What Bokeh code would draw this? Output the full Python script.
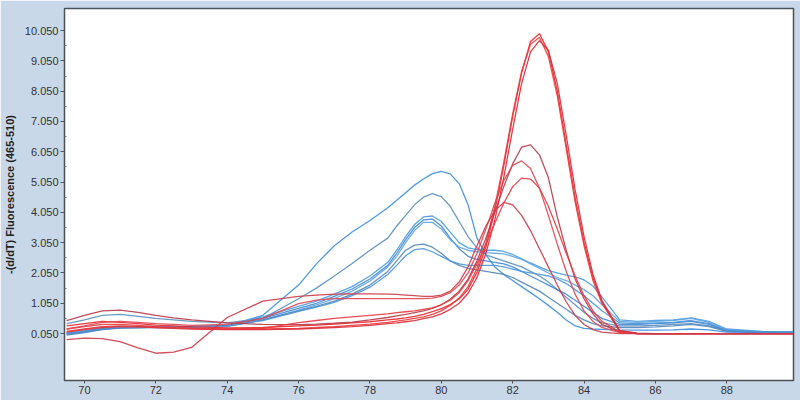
from bokeh.plotting import figure
from bokeh.models import FixedTicker, Range1d
from bokeh.embed import file_html
from bokeh.resources import INLINE

# Temperature grid (°C)
TEMP = [69.5, 70, 70.5, 71, 71.5, 72, 72.5, 73, 74, 75, 76, 76.5, 77, 77.5, 78, 78.5,
        78.75, 79, 79.25, 79.5, 79.75, 80, 80.25, 80.5, 80.75, 81,
        81.25, 81.5, 81.75, 82, 82.25, 82.5, 82.75, 83, 83.25, 83.5,
        83.75, 84, 84.25, 84.5, 85, 85.5, 86, 86.5, 87, 87.5,
        88, 89, 89.85]

# Red samples
RED_T1 = [0.30, 0.38, 0.45, 0.42, 0.38, 0.33, 0.30, 0.27,
          0.24, 0.25, 0.30, 0.33, 0.36, 0.40, 0.44, 0.50,
          0.53, 0.57, 0.62, 0.68, 0.77, 0.87, 1.01, 1.19, 1.51, 2.07,
          2.91, 4.11, 5.58, 7.21, 8.65, 9.69, 9.95, 9.36, 8.05, 6.28,
          4.52, 3.05, 1.88, 1.10, 0.12, 0.05, 0.04, 0.04, 0.05, 0.05,
          0.05, 0.05, 0.05]
RED_T2 = [0.20, 0.28, 0.35, 0.35, 0.32, 0.28, 0.25, 0.22,
          0.20, 0.20, 0.22, 0.25, 0.28, 0.32, 0.36, 0.42,
          0.46, 0.50, 0.55, 0.60, 0.68, 0.80, 0.98, 1.22, 1.60, 2.20,
          3.05, 4.25, 5.70, 7.30, 8.70, 9.60, 9.82, 9.20, 7.90, 6.15,
          4.40, 2.95, 1.80, 1.05, 0.12, 0.05, 0.05, 0.05, 0.05, 0.05,
          0.05, 0.05, 0.05]
RED_T3 = [0.12, 0.20, 0.28, 0.30, 0.28, 0.25, 0.22, 0.20,
          0.18, 0.18, 0.20, 0.22, 0.25, 0.28, 0.32, 0.38,
          0.40, 0.44, 0.48, 0.54, 0.60, 0.70, 0.85, 1.05, 1.38, 1.90,
          2.70, 3.80, 5.20, 6.80, 8.30, 9.35, 9.72, 9.40, 8.30, 6.60,
          4.80, 3.25, 2.00, 1.15, 0.15, 0.06, 0.05, 0.05, 0.05, 0.05,
          0.05, 0.05, 0.05]
RED_M1 = [0.48, 0.65, 0.80, 0.82, 0.75, 0.65, 0.57, 0.50,
          0.40, 0.35, 0.34, 0.36, 0.39, 0.43, 0.50, 0.58,
          0.63, 0.68, 0.74, 0.80, 0.88, 1.00, 1.18, 1.45, 1.85, 2.45,
          3.20, 4.05, 4.90, 5.65, 6.20, 6.28, 5.95, 5.20, 3.90, 2.80,
          1.85, 1.20, 0.70, 0.35, 0.10, 0.05, 0.05, 0.05, 0.05, 0.05,
          0.05, 0.05, 0.05]
RED_M2 = [0.20, 0.30, 0.42, 0.45, 0.42, 0.38, 0.35, 0.32,
          0.35, 0.55, 1.04, 1.15, 1.20, 1.20, 1.20, 1.20,
          1.20, 1.20, 1.20, 1.20, 1.22, 1.28, 1.40, 1.65, 2.05, 2.70,
          3.50, 4.35, 5.10, 5.60, 5.75, 5.50, 4.85, 3.95, 3.00, 2.10,
          1.35, 0.80, 0.45, 0.25, 0.08, 0.05, 0.05, 0.05, 0.05, 0.05,
          0.05, 0.05, 0.05]
RED_M3 = [0.10, 0.18, 0.25, 0.28, 0.27, 0.25, 0.23, 0.22,
          0.20, 0.22, 0.41, 0.48, 0.55, 0.60, 0.65, 0.70,
          0.74, 0.77, 0.80, 0.85, 0.90, 1.00, 1.15, 1.40, 1.80, 2.35,
          3.00, 3.70, 4.35, 4.90, 5.18, 5.15, 4.85, 4.25, 3.50, 2.70,
          1.95, 1.30, 0.80, 0.45, 0.10, 0.05, 0.05, 0.05, 0.05, 0.05,
          0.05, 0.05, 0.05]
RED_M4 = [-0.15, -0.10, -0.12, -0.22, -0.42, -0.60, -0.56, -0.41,
          0.58, 1.12, 1.28, 1.32, 1.35, 1.36, 1.36, 1.35,
          1.34, 1.32, 1.30, 1.28, 1.28, 1.32, 1.45, 1.75, 2.25, 2.95,
          3.60, 4.10, 4.38, 4.30, 3.95, 3.45, 2.85, 2.25, 1.65, 1.10,
          0.65, 0.35, 0.18, 0.10, 0.05, 0.05, 0.05, 0.05, 0.05, 0.05,
          0.05, 0.05, 0.05]

# Blue samples
BLUE_1 = [0.05, 0.12, 0.20, 0.25, 0.26, 0.26, 0.27, 0.28,
          0.30, 0.65, 1.65, 2.35, 2.95, 3.40, 3.78, 4.20,
          4.45, 4.70, 4.95, 5.15, 5.33, 5.40, 5.32, 5.00, 4.30, 3.20,
          2.65, 2.25, 2.00, 1.80, 1.60, 1.40, 1.20, 0.98, 0.75, 0.50,
          0.30, 0.22, 0.20, 0.19, 0.17, 0.16, 0.16, 0.17, 0.20, 0.17,
          0.10, 0.08, 0.08]
BLUE_2 = [0.38, 0.50, 0.65, 0.68, 0.62, 0.55, 0.50, 0.45,
          0.40, 0.55, 1.20, 1.55, 1.95, 2.36, 2.80, 3.20,
          3.60, 3.95, 4.30, 4.55, 4.67, 4.57, 4.25, 3.75, 3.25, 2.88,
          2.65, 2.55, 2.45, 2.35, 2.25, 2.10, 1.95, 1.75, 1.50, 1.25,
          1.00, 0.75, 0.55, 0.40, 0.30, 0.30, 0.32, 0.35, 0.38, 0.30,
          0.15, 0.10, 0.10]
BLUE_3 = [0.05, 0.12, 0.22, 0.26, 0.27, 0.27, 0.27, 0.28,
          0.32, 0.60, 0.95, 1.12, 1.35, 1.60, 1.95, 2.40,
          2.80, 3.25, 3.65, 3.90, 3.93, 3.75, 3.40, 3.05, 2.88, 2.82,
          2.80, 2.80, 2.76, 2.66, 2.52, 2.38, 2.25, 2.13, 2.05, 1.98,
          1.92, 1.82, 1.62, 1.26, 0.50, 0.45, 0.48, 0.50, 0.57, 0.45,
          0.20, 0.12, 0.10]
BLUE_4 = [0.00, 0.08, 0.18, 0.23, 0.24, 0.25, 0.25, 0.26,
          0.30, 0.55, 0.88, 1.05, 1.28, 1.52, 1.85, 2.30,
          2.70, 3.15, 3.55, 3.80, 3.83, 3.60, 3.20, 2.85, 2.60, 2.50,
          2.45, 2.40, 2.35, 2.25, 2.10, 1.95, 1.80, 1.65, 1.50, 1.35,
          1.15, 0.95, 0.75, 0.55, 0.35, 0.35, 0.38, 0.40, 0.45, 0.35,
          0.15, 0.10, 0.10]
BLUE_5 = [0.08, 0.15, 0.24, 0.28, 0.29, 0.29, 0.29, 0.29,
          0.28, 0.50, 0.82, 1.00, 1.20, 1.45, 1.78, 2.25,
          2.60, 3.05, 3.45, 3.72, 3.72, 3.50, 3.15, 2.90, 2.80, 2.75,
          2.72, 2.70, 2.68, 2.60, 2.50, 2.35, 2.20, 2.05, 1.90, 1.80,
          1.65, 1.50, 1.30, 1.00, 0.45, 0.42, 0.45, 0.48, 0.55, 0.42,
          0.18, 0.10, 0.10]
BLUE_6 = [0.02, 0.10, 0.20, 0.24, 0.25, 0.26, 0.26, 0.27,
          0.30, 0.50, 0.80, 0.95, 1.12, 1.35, 1.65, 2.10,
          2.45, 2.80, 2.97, 3.00, 2.90, 2.70, 2.45, 2.30, 2.20, 2.15,
          2.10, 2.05, 2.00, 1.90, 1.75, 1.60, 1.45, 1.25, 1.05, 0.85,
          0.65, 0.50, 0.38, 0.30, 0.25, 0.25, 0.27, 0.30, 0.35, 0.28,
          0.12, 0.09, 0.09]
BLUE_7 = [0.06, 0.13, 0.22, 0.26, 0.27, 0.28, 0.28, 0.28,
          0.30, 0.48, 0.78, 0.92, 1.08, 1.30, 1.58, 2.00,
          2.30, 2.62, 2.82, 2.85, 2.75, 2.60, 2.45, 2.35, 2.30, 2.30,
          2.30, 2.30, 2.25, 2.18, 2.10, 2.05, 2.00, 1.95, 1.85, 1.70,
          1.50, 1.30, 1.05, 0.80, 0.40, 0.38, 0.40, 0.42, 0.48, 0.38,
          0.15, 0.10, 0.10]

RED_SERIES = [RED_T1, RED_T2, RED_T3, RED_M1, RED_M2, RED_M3, RED_M4]
BLUE_SERIES = [BLUE_1, BLUE_2, BLUE_3, BLUE_4, BLUE_5, BLUE_6, BLUE_7]
RED_COLORS = ["#e8272c", "#ee3a3a", "#d92a35", "#b83848", "#e0454f", "#e83a40", "#cc3a48"]
BLUE_COLORS = ["#3a8ee0", "#5b8fc0", "#4a9be0", "#3f86d4", "#62a6e0", "#5385b8", "#4d95d8"]

X_TICKS = [70, 72, 74, 76, 78, 80, 82, 84, 86, 88]
X_TICK_LABELS = ["70", "72", "74", "76", "78", "80", "82", "84", "86", "88"]
Y_TICKS = [0.05, 1.05, 2.05, 3.05, 4.05, 5.05, 6.05, 7.05, 8.05, 9.05, 10.05]
Y_TICK_LABELS = ["0.050", "1.050", "2.050", "3.050", "4.050", "5.050",
                 "6.050", "7.050", "8.050", "9.050", "10.050"]
Y_TITLE = "-(d/dT) Fluorescence (465-510)"

BG = "#c9d8e8"

p = figure(width=800, height=400, output_backend="svg", toolbar_location=None,
           x_range=Range1d(69.44, 89.87), y_range=Range1d(-1.5, 10.78),
           min_border_left=60, min_border_right=7, min_border_top=8, min_border_bottom=20)
p.background_fill_color = "white"
p.border_fill_color = BG
p.outline_line_color = "#4a5258"
p.outline_line_width = 1.5
p.grid.visible = False

for vals, col in zip(BLUE_SERIES, BLUE_COLORS):
    p.line(TEMP, vals, line_color=col, line_width=1.3, line_alpha=0.9)
for vals, col in zip(RED_SERIES, RED_COLORS):
    p.line(TEMP, vals, line_color=col, line_width=1.3, line_alpha=0.9)

xa = p.xaxis[0]
xa.ticker = FixedTicker(ticks=X_TICKS, minor_ticks=[])
xa.major_label_overrides = {t: l for t, l in zip(X_TICKS, X_TICK_LABELS)}
ya = p.yaxis[0]
ya.ticker = FixedTicker(ticks=Y_TICKS, minor_ticks=[t + 0.5 for t in Y_TICKS[:-1]])
ya.major_label_overrides = {t: l for t, l in zip(Y_TICKS, Y_TICK_LABELS)}
ya.axis_label = Y_TITLE
ya.axis_label_text_font = "Liberation Sans"
ya.axis_label_text_font_style = "bold"
ya.axis_label_text_font_size = "11px"
ya.axis_label_text_color = "#222222"
ya.axis_label_standoff = 6

for ax in (xa, ya):
    ax.axis_line_color = None
    ax.major_tick_line_color = "#555555"
    ax.minor_tick_line_color = "#777777"
    ax.major_tick_in = 0
    ax.minor_tick_in = 2
    ax.minor_tick_out = 0
    ax.major_label_text_font = "Liberation Sans"
    ax.major_label_text_font_size = "11px"
    ax.major_label_text_color = "#333333"
xa.major_tick_out = 3
xa.major_label_standoff = 2
ya.major_tick_out = 4
ya.major_label_standoff = 2

open("out.html", "w").write(file_html(p, INLINE))
